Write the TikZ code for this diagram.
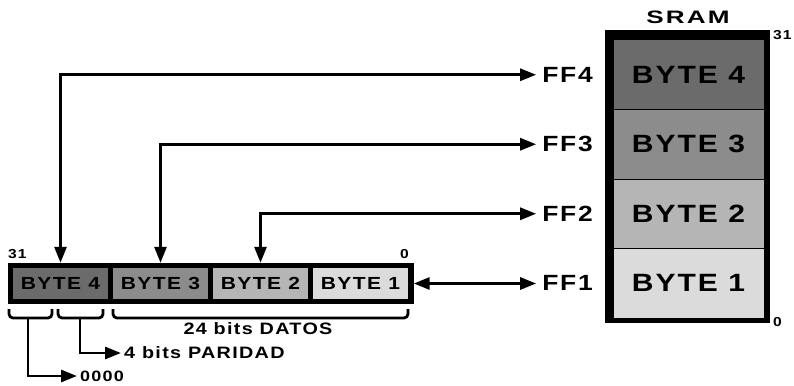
\documentclass[tikz,border=0pt]{standalone}
\usepackage{fontspec}
\setmainfont{Liberation Sans}[FakeStretch=1.2,LetterSpace=8]
\usetikzlibrary{positioning,arrows.meta,fit,backgrounds}
\definecolor{byte4}{gray}{0.42}
\definecolor{byte3}{gray}{0.55}
\definecolor{byte2}{gray}{0.71}
\definecolor{byte1}{gray}{0.86}
\begin{document}
\begin{tikzpicture}[x=1pt,y=-1pt,
	arr/.style={line width=2.8pt,-{Triangle[length=16pt,width=12pt]}},
	dbl/.style={line width=2.8pt,{Triangle[length=16pt,width=12pt]}-{Triangle[length=16pt,width=12pt]}},
	regcell/.style={minimum width=95pt,minimum height=31pt,inner sep=0pt,outer sep=0pt,font=\fontsize{17.5}{19}\selectfont\bfseries},
	memcell/.style={draw=black,line width=1pt,minimum width=151pt,minimum height=69.5pt,inner sep=0pt,outer sep=0pt,font=\fontsize{25}{27}\selectfont\bfseries},
	fflabel/.style={inner xsep=6pt,inner ysep=2pt,font=\fontsize{22}{24}\selectfont\bfseries},
	lbl/.style={inner sep=3pt,font=\fontsize{16.5}{18}\selectfont\bfseries},
	num/.style={inner sep=0pt,font=\fontsize{13}{14}\selectfont\bfseries},
	brk/.style={line width=2.8pt,rounded corners=4pt}]
	\useasboundingbox (0,0) rectangle (794,385);
	
	% register
	\node[regcell,fill=byte4] (r4) at (60.5,283.5) {BYTE 4};
	\node[regcell,fill=byte3,right=5pt of r4] (r3) {BYTE 3};
	\node[regcell,fill=byte2,right=5pt of r3] (r2) {BYTE 2};
	\node[regcell,fill=byte1,right=5pt of r2] (r1) {BYTE 1};
	\begin{scope}[on background layer]
		\node[fit=(r4)(r1),fill=black,inner xsep=5.5pt,inner ysep=5pt] (reg) {};
	\end{scope}
	\node[num,anchor=south west] (rtop) at (8,259) {31};
	\node[num,anchor=south east] (rbot) at (409,259) {0};
	
	% memory
	\node[memcell,fill=byte4] (s4) at (688.5,74.75) {BYTE 4};
	\node[memcell,fill=byte3,below=0pt of s4] (s3) {BYTE 3};
	\node[memcell,fill=byte2,below=0pt of s3] (s2) {BYTE 2};
	\node[memcell,fill=byte1,below=0pt of s2] (s1) {BYTE 1};
	\begin{scope}[on background layer]
		\fill ([shift={(-8,-10)}]s4.north west) rectangle ([shift={(6,5)}]s1.south east);
	\end{scope}
	\node[font=\fontsize{18}{19}\selectfont\bfseries\addfontfeature{FakeStretch=1.45,LetterSpace=12}] (title) at (688,17) {SRAM};
	\node[num,anchor=north west] (stop) at (773,30) {31};
	\node[num,anchor=south west] (sbot) at (773,327) {0};
	
	\node[fflabel,left=14pt of s4] (ff4) {FF4};
	\node[fflabel,left=14pt of s3] (ff3) {FF3};
	\node[fflabel,left=14pt of s2] (ff2) {FF2};
	\node[fflabel,left=14pt of s1] (ff1) {FF1};
	
	\foreach \i in {2,3,4}
		\draw[dbl] (ff\i.west) -| (r\i.north |- reg.north);
	\draw[dbl] (reg.east) -- (reg.east -| ff1.west);
	
	% fields
	\draw[brk] (9,309) -- (9,318) -- (52,318) -- (52,309);
	\draw[brk] (58,309) -- (58,318) -- (103,318) -- (103,309);
	\draw[brk] (113,309) -- (113,318) -- (408,318) -- (408,309);
	\coordinate (b1) at (28,318);
	\coordinate (b2) at (80,318);
	\node[lbl] (datos) at (258,329) {24 bits DATOS};
	\node[lbl,anchor=west] (par) at (121,353) {4 bits PARIDAD};
	\node[lbl,anchor=west,font=\fontsize{15}{16}\selectfont\bfseries] (zero) at (77,376) {0000};
	\draw[arr] (b2) |- (par.west);
	\draw[arr] (b1) |- (zero.west);
\end{tikzpicture}
\end{document}
